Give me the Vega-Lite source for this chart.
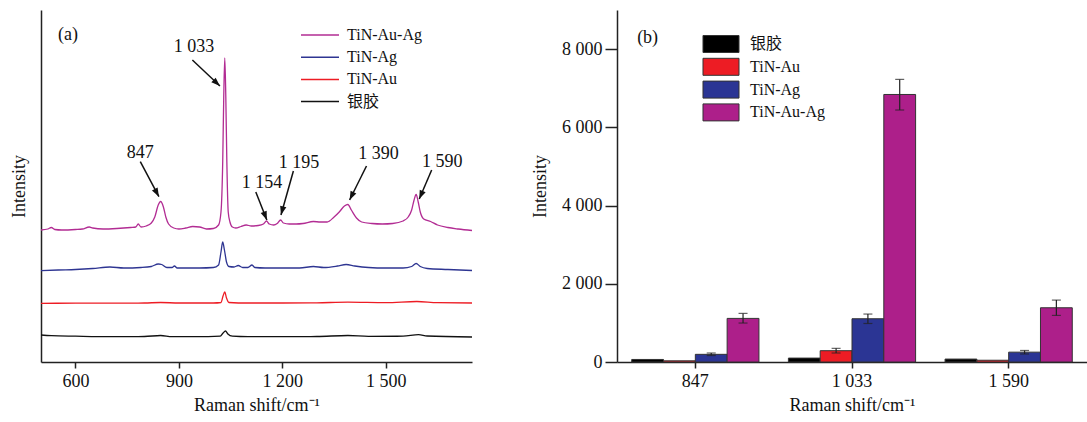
{
  "$schema": "https://vega.github.io/schema/vega-lite/v6.json",
  "background": "white",
  "padding": {"left": 10, "top": 10, "right": 0, "bottom": 2},
  "bounds": "flush",
  "spacing": 145,
  "resolve": {"scale": {"color": "independent"}},
  "config": {
    "font": "Liberation Serif",
    "view": {"stroke": null},
    "axis": {"domainColor": "#222", "tickColor": "#222", "labelColor": "#111", "titleColor": "#111", "labelFont": "Liberation Serif", "titleFont": "Liberation Serif", "labelFontSize": 18, "titleFontSize": 18, "titleFontWeight": "normal", "grid": false, "domainWidth": 1.5, "tickWidth": 1.5},
    "legend": {"labelFont": "Liberation Serif, Noto Sans CJK SC", "labelFontSize": 16, "labelColor": "#111", "padding": 0}
  },
  "datasets": {
    "spectra": [
      {"s":"TiN-Au-Ag","x":500,"y":132},{"s":"TiN-Au-Ag","x":520,"y":133},{"s":"TiN-Au-Ag","x":530,"y":134.5},{"s":"TiN-Au-Ag","x":540,"y":132.5},{"s":"TiN-Au-Ag","x":560,"y":132},{"s":"TiN-Au-Ag","x":600,"y":132.5},{"s":"TiN-Au-Ag","x":620,"y":133},{"s":"TiN-Au-Ag","x":640,"y":135},{"s":"TiN-Au-Ag","x":650,"y":134},{"s":"TiN-Au-Ag","x":680,"y":133},{"s":"TiN-Au-Ag","x":720,"y":133.5},{"s":"TiN-Au-Ag","x":760,"y":134.5},{"s":"TiN-Au-Ag","x":775,"y":135},{"s":"TiN-Au-Ag","x":782,"y":138},{"s":"TiN-Au-Ag","x":790,"y":135},{"s":"TiN-Au-Ag","x":805,"y":136},{"s":"TiN-Au-Ag","x":820,"y":139},{"s":"TiN-Au-Ag","x":830,"y":145},{"s":"TiN-Au-Ag","x":840,"y":157},{"s":"TiN-Au-Ag","x":847,"y":160.5},{"s":"TiN-Au-Ag","x":855,"y":155},{"s":"TiN-Au-Ag","x":862,"y":145},{"s":"TiN-Au-Ag","x":870,"y":138},{"s":"TiN-Au-Ag","x":885,"y":134},{"s":"TiN-Au-Ag","x":900,"y":133},{"s":"TiN-Au-Ag","x":920,"y":134},{"s":"TiN-Au-Ag","x":940,"y":135.5},{"s":"TiN-Au-Ag","x":960,"y":135},{"s":"TiN-Au-Ag","x":980,"y":133},{"s":"TiN-Au-Ag","x":1000,"y":133.5},{"s":"TiN-Au-Ag","x":1015,"y":137},{"s":"TiN-Au-Ag","x":1022,"y":150},{"s":"TiN-Au-Ag","x":1027,"y":200},{"s":"TiN-Au-Ag","x":1030,"y":265},{"s":"TiN-Au-Ag","x":1033,"y":304},{"s":"TiN-Au-Ag","x":1036,"y":265},{"s":"TiN-Au-Ag","x":1039,"y":200},{"s":"TiN-Au-Ag","x":1043,"y":150},{"s":"TiN-Au-Ag","x":1048,"y":140},{"s":"TiN-Au-Ag","x":1055,"y":135},{"s":"TiN-Au-Ag","x":1065,"y":134},{"s":"TiN-Au-Ag","x":1080,"y":135.5},{"s":"TiN-Au-Ag","x":1095,"y":137},{"s":"TiN-Au-Ag","x":1110,"y":136},{"s":"TiN-Au-Ag","x":1130,"y":136.5},{"s":"TiN-Au-Ag","x":1145,"y":138},{"s":"TiN-Au-Ag","x":1154,"y":141},{"s":"TiN-Au-Ag","x":1162,"y":138},{"s":"TiN-Au-Ag","x":1175,"y":137},{"s":"TiN-Au-Ag","x":1185,"y":138.5},{"s":"TiN-Au-Ag","x":1195,"y":142},{"s":"TiN-Au-Ag","x":1203,"y":139},{"s":"TiN-Au-Ag","x":1220,"y":138},{"s":"TiN-Au-Ag","x":1240,"y":138},{"s":"TiN-Au-Ag","x":1260,"y":138.5},{"s":"TiN-Au-Ag","x":1290,"y":140.5},{"s":"TiN-Au-Ag","x":1310,"y":140},{"s":"TiN-Au-Ag","x":1330,"y":140},{"s":"TiN-Au-Ag","x":1350,"y":145},{"s":"TiN-Au-Ag","x":1365,"y":150},{"s":"TiN-Au-Ag","x":1380,"y":156},{"s":"TiN-Au-Ag","x":1390,"y":157.5},{"s":"TiN-Au-Ag","x":1400,"y":152},{"s":"TiN-Au-Ag","x":1415,"y":144},{"s":"TiN-Au-Ag","x":1430,"y":140},{"s":"TiN-Au-Ag","x":1460,"y":138.5},{"s":"TiN-Au-Ag","x":1490,"y":138},{"s":"TiN-Au-Ag","x":1520,"y":138.5},{"s":"TiN-Au-Ag","x":1550,"y":141},{"s":"TiN-Au-Ag","x":1565,"y":145},{"s":"TiN-Au-Ag","x":1575,"y":152},{"s":"TiN-Au-Ag","x":1582,"y":162},{"s":"TiN-Au-Ag","x":1588,"y":167.5},{"s":"TiN-Au-Ag","x":1594,"y":160},{"s":"TiN-Au-Ag","x":1600,"y":150},{"s":"TiN-Au-Ag","x":1610,"y":143},{"s":"TiN-Au-Ag","x":1630,"y":140.5},{"s":"TiN-Au-Ag","x":1650,"y":137},{"s":"TiN-Au-Ag","x":1680,"y":134.5},{"s":"TiN-Au-Ag","x":1710,"y":133},{"s":"TiN-Au-Ag","x":1750,"y":131.5},
      {"s":"TiN-Ag","x":500,"y":91.3},{"s":"TiN-Ag","x":550,"y":92},{"s":"TiN-Ag","x":600,"y":92.5},{"s":"TiN-Ag","x":650,"y":93.5},{"s":"TiN-Ag","x":700,"y":95},{"s":"TiN-Ag","x":740,"y":94},{"s":"TiN-Ag","x":790,"y":94.5},{"s":"TiN-Ag","x":820,"y":95.5},{"s":"TiN-Ag","x":840,"y":98},{"s":"TiN-Ag","x":850,"y":97.5},{"s":"TiN-Ag","x":865,"y":94.5},{"s":"TiN-Ag","x":880,"y":94.5},{"s":"TiN-Ag","x":887,"y":96},{"s":"TiN-Ag","x":895,"y":94},{"s":"TiN-Ag","x":920,"y":94},{"s":"TiN-Ag","x":960,"y":94},{"s":"TiN-Ag","x":1000,"y":94.5},{"s":"TiN-Ag","x":1015,"y":97},{"s":"TiN-Ag","x":1022,"y":110},{"s":"TiN-Ag","x":1027,"y":120},{"s":"TiN-Ag","x":1032,"y":112},{"s":"TiN-Ag","x":1038,"y":100},{"s":"TiN-Ag","x":1045,"y":95.5},{"s":"TiN-Ag","x":1060,"y":95},{"s":"TiN-Ag","x":1072,"y":96.5},{"s":"TiN-Ag","x":1085,"y":94.5},{"s":"TiN-Ag","x":1100,"y":94.5},{"s":"TiN-Ag","x":1112,"y":97},{"s":"TiN-Ag","x":1120,"y":94.5},{"s":"TiN-Ag","x":1150,"y":94},{"s":"TiN-Ag","x":1200,"y":94},{"s":"TiN-Ag","x":1250,"y":94},{"s":"TiN-Ag","x":1290,"y":95.5},{"s":"TiN-Ag","x":1320,"y":94.5},{"s":"TiN-Ag","x":1360,"y":96},{"s":"TiN-Ag","x":1385,"y":97.5},{"s":"TiN-Ag","x":1410,"y":96},{"s":"TiN-Ag","x":1450,"y":94.5},{"s":"TiN-Ag","x":1500,"y":94},{"s":"TiN-Ag","x":1550,"y":94},{"s":"TiN-Ag","x":1575,"y":95.5},{"s":"TiN-Ag","x":1588,"y":98.5},{"s":"TiN-Ag","x":1600,"y":95.5},{"s":"TiN-Ag","x":1620,"y":93.5},{"s":"TiN-Ag","x":1680,"y":92.5},{"s":"TiN-Ag","x":1750,"y":91.5},
      {"s":"TiN-Au","x":500,"y":58.7},{"s":"TiN-Au","x":600,"y":58.8},{"s":"TiN-Au","x":700,"y":58.8},{"s":"TiN-Au","x":800,"y":59},{"s":"TiN-Au","x":847,"y":59.5},{"s":"TiN-Au","x":900,"y":59},{"s":"TiN-Au","x":1000,"y":59},{"s":"TiN-Au","x":1022,"y":59.5},{"s":"TiN-Au","x":1028,"y":66},{"s":"TiN-Au","x":1033,"y":70},{"s":"TiN-Au","x":1038,"y":64},{"s":"TiN-Au","x":1045,"y":59.5},{"s":"TiN-Au","x":1100,"y":59},{"s":"TiN-Au","x":1200,"y":59},{"s":"TiN-Au","x":1300,"y":59.2},{"s":"TiN-Au","x":1390,"y":59.8},{"s":"TiN-Au","x":1500,"y":59.3},{"s":"TiN-Au","x":1590,"y":60.5},{"s":"TiN-Au","x":1650,"y":59.3},{"s":"TiN-Au","x":1750,"y":59},
      {"s":"银胶","x":500,"y":27},{"s":"银胶","x":530,"y":26.3},{"s":"银胶","x":600,"y":25.8},{"s":"银胶","x":700,"y":25.3},{"s":"银胶","x":800,"y":25.5},{"s":"银胶","x":847,"y":26.5},{"s":"银胶","x":880,"y":25.3},{"s":"银胶","x":950,"y":25.3},{"s":"银胶","x":1020,"y":25.8},{"s":"银胶","x":1028,"y":29},{"s":"银胶","x":1035,"y":31},{"s":"银胶","x":1042,"y":28},{"s":"银胶","x":1055,"y":25.8},{"s":"银胶","x":1100,"y":25.3},{"s":"银胶","x":1200,"y":25.3},{"s":"银胶","x":1300,"y":25.5},{"s":"银胶","x":1390,"y":26.5},{"s":"银胶","x":1450,"y":25.6},{"s":"银胶","x":1550,"y":25.8},{"s":"银胶","x":1595,"y":27.3},{"s":"银胶","x":1620,"y":26},{"s":"银胶","x":1750,"y":25}
    ],
    "arrows": [
      {"x1":788,"y1":200.3,"x2":842,"y2":165.3,"a":152},
      {"x1":939,"y1":302,"x2":1019,"y2":276,"a":133},
      {"x1":1123,"y1":170,"x2":1155,"y2":142,"a":159},
      {"x1":1232,"y1":191,"x2":1196,"y2":147,"a":195},
      {"x1":1444,"y1":196,"x2":1395,"y2":162,"a":206},
      {"x1":1633,"y1":192,"x2":1597,"y2":163,"a":203}
    ],
    "labelsA": [
      {"x":578,"y":327,"t":"(a)"},
      {"x":788,"y":209,"t":"847"},
      {"x":944,"y":314.7,"t":"1 033"},
      {"x":1141,"y":179,"t":"1 154"},
      {"x":1248,"y":198.7,"t":"1 195"},
      {"x":1479,"y":208,"t":"1 390"},
      {"x":1664,"y":199.7,"t":"1 590"}
    ],
    "bars": [
      {"peak":"847","sample":"银胶","v":65},
      {"peak":"847","sample":"TiN-Au","v":30},
      {"peak":"847","sample":"TiN-Ag","v":196,"lo":165,"hi":230},
      {"peak":"847","sample":"TiN-Au-Ag","v":1115,"lo":996,"hi":1243},
      {"peak":"1 033","sample":"银胶","v":100},
      {"peak":"1 033","sample":"TiN-Au","v":289,"lo":230,"hi":349},
      {"peak":"1 033","sample":"TiN-Ag","v":1106,"lo":985,"hi":1226},
      {"peak":"1 033","sample":"TiN-Au-Ag","v":6840,"lo":6443,"hi":7226},
      {"peak":"1 590","sample":"银胶","v":75},
      {"peak":"1 590","sample":"TiN-Au","v":45},
      {"peak":"1 590","sample":"TiN-Ag","v":252,"lo":205,"hi":295},
      {"peak":"1 590","sample":"TiN-Au-Ag","v":1387,"lo":1191,"hi":1583}
    ],
    "labelsB": [
      {"peak":"847","sample":"银胶","v":8280,"t":"(b)"}
    ]
  },
  "hconcat": [
    {
      "width": 431,
      "height": 352,
      "layer": [
        {
          "data": {"name": "spectra"},
          "mark": {"type": "line", "strokeWidth": 1.3, "interpolate": "monotone"},
          "encoding": {
            "x": {"field": "x", "type": "quantitative", "scale": {"domain": [500, 1750], "nice": false, "zero": false},
                  "axis": {"title": "Raman shift/cm⁻¹", "values": [600, 900, 1200, 1500], "labelExpr": "replace(format(datum.value, ','), ',', ' ')", "tickSize": 6, "labelPadding": 4, "titlePadding": 6}},
            "y": {"field": "y", "type": "quantitative", "scale": {"domain": [0, 352], "nice": false},
                  "axis": {"title": "Intensity", "labels": false, "ticks": false, "titlePadding": 13}},
            "color": {"field": "s", "type": "nominal",
                      "scale": {"domain": ["TiN-Au-Ag", "TiN-Ag", "TiN-Au", "银胶"], "range": ["#B22C93", "#2E3592", "#ED1C24", "#111111"]},
                      "legend": {"title": null, "orient": "none", "legendX": 270, "legendY": 16, "symbolType": "M-2.375,0H2.375", "symbolSize": 256, "symbolStrokeWidth": 1.5, "labelOffset": 18, "rowPadding": 5.2}}
          }
        },
        {
          "data": {"name": "arrows"},
          "mark": {"type": "rule", "strokeWidth": 1.5, "color": "#111"},
          "encoding": {
            "x": {"field": "x1", "type": "quantitative"},
            "y": {"field": "y1", "type": "quantitative"},
            "x2": {"field": "x2"},
            "y2": {"field": "y2"}
          }
        },
        {
          "data": {"name": "arrows"},
          "mark": {"type": "point", "shape": "M0,0L-0.8,2.2L0.8,2.2Z", "filled": true, "color": "#111", "size": 64, "opacity": 1},
          "encoding": {
            "x": {"field": "x2", "type": "quantitative"},
            "y": {"field": "y2", "type": "quantitative"},
            "angle": {"field": "a", "type": "quantitative", "scale": null}
          }
        },
        {
          "data": {"name": "labelsA"},
          "mark": {"type": "text", "font": "Liberation Serif", "fontSize": 18, "color": "#111", "align": "center", "baseline": "middle"},
          "encoding": {
            "x": {"field": "x", "type": "quantitative"},
            "y": {"field": "y", "type": "quantitative"},
            "text": {"field": "t"}
          }
        }
      ]
    },
    {
      "width": 470,
      "height": 352,
      "layer": [
        {
          "data": {"name": "bars"},
          "mark": {"type": "bar", "stroke": "#333", "strokeWidth": 1},
          "encoding": {
            "x": {"field": "peak", "type": "nominal", "sort": ["847", "1 033", "1 590"], "scale": {"paddingInner": 0.188, "paddingOuter": 0.094},
                  "axis": {"title": "Raman shift/cm⁻¹", "labelAngle": 0, "tickSize": 6, "labelPadding": 4, "titlePadding": 6}},
            "xOffset": {"field": "sample", "sort": ["银胶", "TiN-Au", "TiN-Ag", "TiN-Au-Ag"], "scale": {"paddingInner": 0, "paddingOuter": 0}},
            "y": {"field": "v", "type": "quantitative", "scale": {"domain": [0, 9000], "nice": false},
                  "axis": {"title": "Intensity", "values": [0, 2000, 4000, 6000, 8000], "labelExpr": "replace(format(datum.value, ','), ',', ' ')", "tickSize": 12, "labelPadding": 3, "titlePadding": 12}},
            "color": {"field": "sample", "type": "nominal",
                      "scale": {"domain": ["银胶", "TiN-Au", "TiN-Ag", "TiN-Au-Ag"], "range": ["#000000", "#ED1C24", "#2B3594", "#AD1F8A"]},
                      "legend": {"title": null, "orient": "none", "legendX": 95, "legendY": 25, "symbolType": "M-2.118,-1H2.118V1H-2.118Z", "symbolSize": 289, "symbolStrokeColor": "#333", "symbolStrokeWidth": 1, "labelOffset": 20, "rowPadding": 0.8}}
          }
        },
        {
          "data": {"name": "bars"},
          "transform": [{"filter": "isValid(datum.lo)"}],
          "mark": {"type": "rule", "color": "#222", "strokeWidth": 1.2},
          "encoding": {
            "x": {"field": "peak", "type": "nominal", "sort": ["847", "1 033", "1 590"]},
            "xOffset": {"field": "sample", "sort": ["银胶", "TiN-Au", "TiN-Ag", "TiN-Au-Ag"]},
            "y": {"field": "lo", "type": "quantitative"},
            "y2": {"field": "hi"}
          }
        },
        {
          "data": {"name": "bars"},
          "transform": [{"filter": "isValid(datum.lo)"}],
          "mark": {"type": "tick", "orient": "horizontal", "size": 9, "thickness": 1.2, "color": "#222"},
          "encoding": {
            "x": {"field": "peak", "type": "nominal", "sort": ["847", "1 033", "1 590"]},
            "xOffset": {"field": "sample", "sort": ["银胶", "TiN-Au", "TiN-Ag", "TiN-Au-Ag"]},
            "y": {"field": "lo", "type": "quantitative"}
          }
        },
        {
          "data": {"name": "bars"},
          "transform": [{"filter": "isValid(datum.lo)"}],
          "mark": {"type": "tick", "orient": "horizontal", "size": 9, "thickness": 1.2, "color": "#222"},
          "encoding": {
            "x": {"field": "peak", "type": "nominal", "sort": ["847", "1 033", "1 590"]},
            "xOffset": {"field": "sample", "sort": ["银胶", "TiN-Au", "TiN-Ag", "TiN-Au-Ag"]},
            "y": {"field": "hi", "type": "quantitative"}
          }
        },
        {
          "data": {"name": "labelsB"},
          "mark": {"type": "text", "font": "Liberation Serif", "fontSize": 18, "color": "#111", "align": "center", "baseline": "middle"},
          "encoding": {
            "x": {"field": "peak", "type": "nominal", "sort": ["847", "1 033", "1 590"]},
            "xOffset": {"field": "sample", "sort": ["银胶", "TiN-Au", "TiN-Ag", "TiN-Au-Ag"]},
            "y": {"field": "v", "type": "quantitative"},
            "text": {"field": "t"}
          }
        }
      ]
    }
  ]
}
